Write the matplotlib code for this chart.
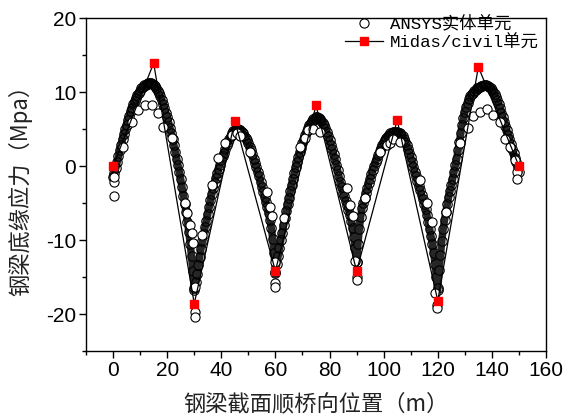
import numpy as np
import matplotlib
matplotlib.use("Agg")
import matplotlib.pyplot as plt
from matplotlib.ticker import MultipleLocator
from matplotlib.lines import Line2D

plt.rcParams['axes.unicode_minus'] = False

# ---------------- data ----------------
# Midas/civil results (every 15 m)
midas_x = [0, 15, 30, 45, 60, 75, 90, 105, 120, 135, 150]
midas_y = [0.0, 13.9, -18.6, 6.1, -14.2, 8.2, -14.2, 6.2, -18.2, 13.4, 0.0]

# ANSYS solid-element results, dense node line (0.5 m), per span
span1_x = np.arange(0, 30.01, 0.5)
span1_y = [-1.5, -0.9, -0.3, 0.5, 1.3, 2.1, 2.9, 3.6, 4.3, 5.0, 5.6, 6.2, 6.8, 7.4, 7.9, 8.4,
           8.8, 9.2, 9.6, 9.9, 10.2, 10.5, 10.7, 10.9, 11.0, 11.1, 11.2, 11.25, 11.2, 11.1, 11.0,
           10.8, 10.5, 10.2, 9.8, 9.4, 8.9, 8.4, 7.8, 7.2, 6.6, 5.9, 5.2, 4.4, 3.6, 2.8, 1.9,
           1.0, 0.1, -0.8, -1.8, -2.9, -4.0, -5.1, -6.2, -7.5, -8.9, -10.5, -12.2, -14.2, -16.5]
span2_x = np.arange(30, 60.01, 0.5)
span2_y = [-16.8, -15.7, -14.6, -13.4, -12.3, -11.2, -10.2, -9.2, -8.3, -7.4, -6.5, -5.6, -4.6,
           -3.8, -3.0, -2.3, -1.6, -1.0, -0.4, 0.2, 0.8, 1.3, 1.8, 2.3, 2.8, 3.2, 3.6, 4.0, 4.4,
           4.7, 4.9, 5.0, 5.0, 4.9, 4.8, 4.6, 4.4, 4.1, 3.8, 3.5, 3.1, 2.6, 2.1, 1.6, 1.0, 0.4,
           -0.2, -0.8, -1.4, -2.1, -2.8, -3.5, -4.2, -4.9, -5.6, -6.4, -7.3, -8.4, -9.8, -11.8, -14.5]
span3_x = np.arange(60, 90.01, 0.5)
span3_y = [-14.3, -13.2, -12.2, -11.1, -10.0, -9.0, -8.0, -7.0, -6.1, -5.2, -4.3, -3.4, -2.6,
           -1.8, -1.0, -0.2, 0.5, 1.2, 1.9, 2.5, 3.1, 3.7, 4.2, 4.7, 5.1, 5.5, 5.8, 6.1, 6.3,
           6.5, 6.6, 6.6, 6.5, 6.3, 6.1, 5.8, 5.5, 5.1, 4.6, 4.1, 3.5, 2.9, 2.3, 1.6, 0.9, 0.2,
           -0.6, -1.4, -2.2, -2.9, -3.6, -4.1, -4.7, -5.3, -5.9, -6.6, -7.4, -8.4, -9.6, -11.1, -13.0]
span4_x = np.arange(90, 120.01, 0.5)
span4_y = [-13.0, -10.5, -8.5, -6.9, -5.7, -5.0, -4.3, -3.6, -3.0, -2.3, -1.7, -1.1, -0.5, 0.0,
           0.5, 1.0, 1.5, 2.0, 2.4, 2.8, 3.2, 3.5, 3.8, 4.0, 4.2, 4.4, 4.5, 4.6, 4.6, 4.6, 4.6,
           4.5, 4.4, 4.2, 4.0, 3.7, 3.3, 2.8, 2.3, 1.8, 1.2, 0.6, -0.1, -0.8, -1.4, -2.0, -2.7,
           -3.3, -3.9, -4.5, -5.1, -5.8, -6.6, -7.5, -8.5, -9.5, -10.5, -11.8, -13.3, -15.0, -16.8]
span5_x = np.arange(120, 150.01, 0.5)
span5_y = [-16.5, -14.0, -12.0, -10.1, -8.5, -7.3, -6.2, -5.2, -4.2, -3.4, -2.6, -1.7, -0.8, 0.1,
           1.0, 2.1, 3.2, 4.4, 5.5, 6.5, 7.3, 8.0, 8.5, 9.0, 9.4, 9.7, 9.9, 10.1, 10.3, 10.5,
           10.6, 10.7, 10.8, 10.85, 10.9, 10.9, 10.9, 10.8, 10.7, 10.5, 10.3, 10.0, 9.7, 9.3,
           8.9, 8.4, 7.8, 7.2, 6.6, 6.0, 5.4, 4.8, 4.2, 3.6, 3.0, 2.3, 1.7, 1.1, 0.5, -0.2, -0.8]

# ANSYS sparse nodes (other node line of the section)
sparse_x = [0.5, 0.5, 0.5, 3.7, 6.9, 9.3, 11.8, 14.3, 16.7, 18.5, 21.7, 26.6, 27.2, 28.5, 29.1,
            29.6, 30.2, 30.2, 30.2,
            32.8, 36.5, 38.8, 41.4, 43.9, 45.7, 46.9, 50.6, 56.8, 58.0, 58.6, 59.8, 60.0, 60.0,
            63.0, 69.1, 71.0, 72.2, 74.0, 76.5, 86.4, 87.6, 88.8, 89.5, 90.0, 90.0,
            93.0, 98.7, 101.1, 102.4, 103.6, 106.0, 113.4, 115.9, 117.8, 119.0, 119.6, 119.6,
            123.0, 128.2, 131.3, 133.2, 135.6, 138.1, 140.5, 143.0, 144.9, 146.7, 148.6, 149.2, 149.4]
sparse_y = [-4.0, -2.2, -1.5, 2.6, 6.0, 7.6, 8.2, 8.2, 7.1, 5.3, 3.8, -5.0, -6.4, -8.0, -9.1,
            -10.4, -16.3, -19.7, -20.4,
            -9.3, -2.6, 1.1, 3.1, 4.2, 4.5, 4.0, 1.9, -3.5, -5.5, -6.8, -13.0, -15.8, -16.3,
            -7.0, 2.6, 3.8, 4.9, 5.0, 4.6, -3.0, -5.3, -6.8, -12.9, -15.0, -15.4,
            -4.3, 1.9, 2.8, 3.1, 3.6, 3.3, -1.9, -5.0, -7.5, -17.2, -18.8, -19.2,
            -6.2, 3.1, 5.1, 6.7, 7.3, 7.7, 6.9, 6.0, 3.7, 2.6, 0.8, -0.8, -1.7]

# ---------------- figure ----------------
fig = plt.figure(figsize=(5.75, 4.17), dpi=100)
ax = fig.add_axes([86/575, 66/417, 460/575, 333/417])

for sx, sy in [(span1_x, span1_y), (span2_x, span2_y), (span3_x, span3_y),
               (span4_x, span4_y), (span5_x, span5_y)]:
    # heavily overlapping node circles form a dark band
    ax.plot(sx, sy, color='#262626', lw=5.4, solid_capstyle='round', zorder=2)
    ax.plot(sx, sy, marker='o', ms=6.8, mfc='none', mec='black', mew=0.8, ls='none', zorder=2)
ax.plot(sparse_x, sparse_y, marker='o', ms=6.6, mfc='white', mec='black', mew=0.8,
        ls='none', zorder=3)

ax.plot(midas_x, midas_y, color='black', lw=0.9, marker='s', ms=6, mfc='red', mec='red',
        zorder=4)

ax.set_xlim(-10, 160)
ax.set_ylim(-25, 20)
ax.xaxis.set_major_locator(MultipleLocator(20))
ax.xaxis.set_minor_locator(MultipleLocator(10))
ax.yaxis.set_major_locator(MultipleLocator(10))
ax.yaxis.set_minor_locator(MultipleLocator(5))
ax.tick_params(which='both', direction='out', top=False, right=False, width=1.0)
ax.tick_params(which='major', length=5, labelsize=15, pad=2)
ax.tick_params(which='minor', length=3)
for lab in ax.get_xticklabels() + ax.get_yticklabels():
    lab.set_fontfamily('Liberation Sans')
for sp in ax.spines.values():
    sp.set_linewidth(1.0)

cjk = ['Noto Sans CJK SC', 'DejaVu Sans']
ax.set_xlabel('钢梁截面顺桥向位置（m）', fontsize=16, family=cjk,
              labelpad=9, color='#222222')
ax.set_ylabel('钢梁底缘应力（Mpa）', fontsize=16, family=cjk,
              labelpad=10, color='#222222')

handles = [Line2D([], [], marker='o', ms=6.6, mfc='white', mec='black', mew=0.8, ls='none'),
           Line2D([], [], color='black', lw=0.9, marker='s', ms=6, mfc='red', mec='red')]
leg = ax.legend(handles, ['ANSYS实体单元', 'Midas/civil单元'], loc='upper right',
                bbox_to_anchor=(1.0, 1.03), frameon=False, borderpad=0.2, borderaxespad=0.2,
                labelspacing=0.15, handlelength=2.2, handletextpad=0.4,
                prop={'family': ['Liberation Mono', 'Noto Sans CJK SC'], 'size': 12.5})

fig.savefig('out.png', dpi=100)
